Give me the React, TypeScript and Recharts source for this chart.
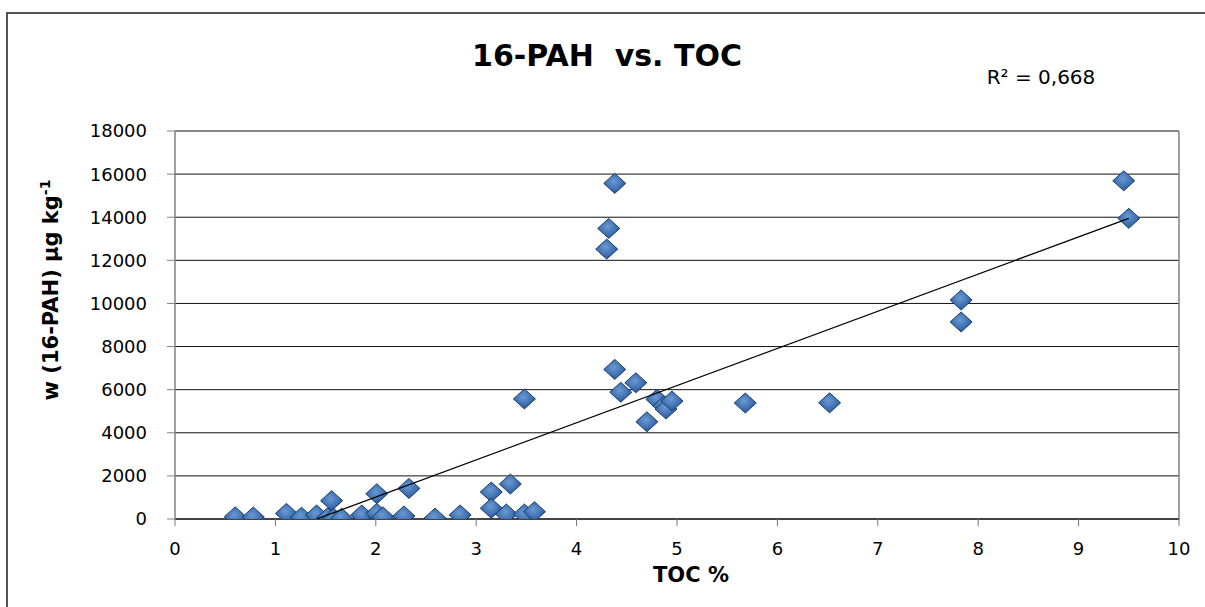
import React from "react";
import {
  ScatterChart,
  Scatter,
  XAxis,
  YAxis,
  CartesianGrid,
  ReferenceLine,
} from "recharts";

// TOC % (x) and 16-PAH in µg/kg (y)
const tocPercent = [
  0.6, 0.78, 1.11, 1.26, 1.41, 1.56, 1.52, 1.58, 1.66, 1.86, 2.01, 2.01, 2.07,
  2.28, 2.33, 2.59, 2.84, 3.15, 3.15, 3.3, 3.34, 3.48, 3.58, 3.48, 4.3, 4.32,
  4.38, 4.38, 4.44, 4.59, 4.7, 4.8, 4.87, 4.89, 4.95, 5.68, 6.52, 7.83, 7.83,
  9.45, 9.5,
];
const pahValues = [
  100, 90, 260, 80, 185, 850, 60, 30, 40, 185, 1170, 260, 100, 140, 1420, 40,
  185, 1250, 500, 230, 1620, 230, 340, 5570, 12520, 13480, 15570, 6940, 5880,
  6320, 4510, 5550, 5250, 5100, 5470, 5380, 5390, 10160, 9140, 15690, 13950,
];

// linear trendline ends (clipped at y = 0), as drawn in the reference
const trendX = [1.41, 9.5];
const trendY = [0, 13950];

const xTicks = [0, 1, 2, 3, 4, 5, 6, 7, 8, 9, 10];
const yTicks = [0, 2000, 4000, 6000, 8000, 10000, 12000, 14000, 16000, 18000];

const points = tocPercent.map((x, i) => ({ x, y: pahValues[i] }));
const trend = trendX.map((x, i) => ({ x, y: trendY[i] }));

const FONT = "'DejaVu Sans', sans-serif";

function Diamond(props: any) {
  const { cx, cy } = props;
  if (cx == null || cy == null) return <g />;
  const w = 11;
  const h = 10;
  return (
    <polygon
      points={`${cx},${cy - h} ${cx + w},${cy} ${cx},${cy + h} ${cx - w},${cy}`}
      fill="url(#diamondFill)"
      stroke="#1b3d6d"
      strokeWidth={1}
    />
  );
}

export default function App() {
  const tickStyle = { fill: "#000", fontSize: 18, fontFamily: FONT };
  return (
    <div
      style={{
        position: "absolute",
        left: 0,
        top: 0,
        width: 1205,
        height: 607,
        overflow: "hidden",
        background: "#fff",
        fontFamily: FONT,
      }}
    >
      <div
        style={{
          position: "absolute",
          left: 6,
          top: 12,
          width: 1400,
          height: 800,
          border: "2px solid #555",
          boxSizing: "border-box",
        }}
      />
      <ScatterChart
        width={1205}
        height={607}
        margin={{ top: 131, right: 26, bottom: 38, left: 95 }}
        style={{ position: "absolute", left: 0, top: 0 }}
      >
        <defs>
          <radialGradient id="diamondFill" cx="45%" cy="40%" r="65%">
            <stop offset="0%" stopColor="#6a9ad4" />
            <stop offset="60%" stopColor="#3f70b0" />
            <stop offset="100%" stopColor="#29528d" />
          </radialGradient>
        </defs>
        <CartesianGrid
          vertical={false}
          horizontal
          stroke="#111"
          strokeWidth={1}
        />
        <XAxis
          type="number"
          dataKey="x"
          domain={[0, 10]}
          ticks={xTicks}
          interval={0}
          height={50}
          axisLine={{ stroke: "#000", strokeWidth: 1 }}
          tickLine={{ stroke: "#777" }}
          tickSize={7}
          tickMargin={16}
          tick={tickStyle}
          allowDataOverflow
        />
        <YAxis
          type="number"
          dataKey="y"
          domain={[0, 18000]}
          ticks={yTicks}
          interval={0}
          width={80}
          axisLine={{ stroke: "#808080", strokeWidth: 1.5 }}
          tickLine={{ stroke: "#808080" }}
          tickSize={8}
          tickMargin={20}
          tick={tickStyle}
          allowDataOverflow
        />
        <ReferenceLine x={10} stroke="#808080" strokeWidth={1.5} />
        <Scatter
          data={points}
          shape={Diamond}
          isAnimationActive={false}
        />
        <Scatter
          data={trend}
          line={{ stroke: "#000", strokeWidth: 1.3 }}
          shape={() => <g />}
          isAnimationActive={false}
        />
      </ScatterChart>
      <div
        style={{
          position: "absolute",
          left: 607,
          top: 55,
          transform: "translate(-50%, -50%)",
          fontSize: 30,
          fontWeight: "bold",
          whiteSpace: "pre",
        }}
      >
        {"16-PAH  vs. TOC"}
      </div>
      <div
        style={{
          position: "absolute",
          left: 1041,
          top: 77,
          transform: "translate(-50%, -50%)",
          fontSize: 20,
          whiteSpace: "pre",
        }}
      >
        R² = 0,668
      </div>
      <div
        style={{
          position: "absolute",
          left: 691,
          top: 575,
          transform: "translate(-50%, -50%)",
          fontSize: 21,
          fontWeight: "bold",
          whiteSpace: "pre",
        }}
      >
        TOC %
      </div>
      <div
        style={{
          position: "absolute",
          left: 50,
          top: 290,
          transform: "translate(-50%, -50%) rotate(-90deg)",
          fontSize: 21,
          fontWeight: "bold",
          whiteSpace: "pre",
        }}
      >
        w (16-PAH) µg kg<sup style={{ fontSize: 14 }}>-1</sup>
      </div>
    </div>
  );
}
